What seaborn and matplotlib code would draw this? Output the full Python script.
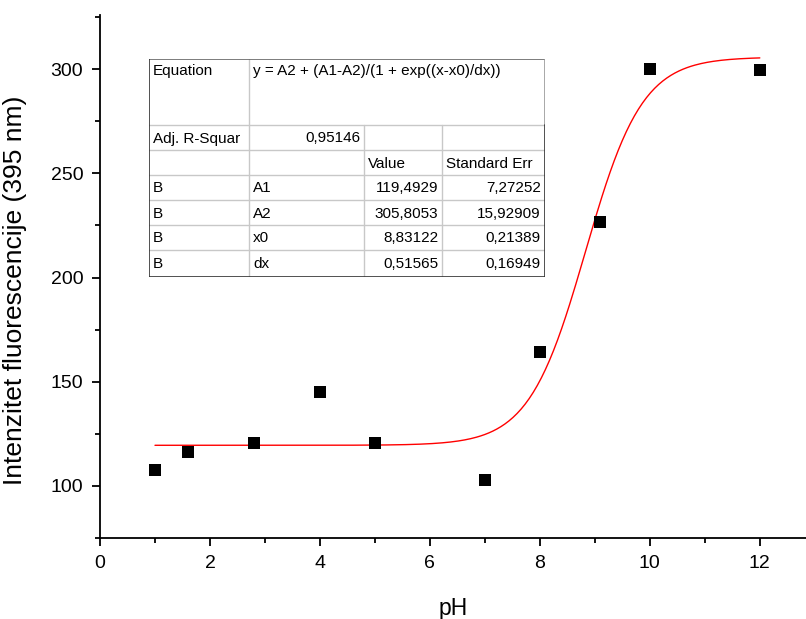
import numpy as np
import pandas as pd
import matplotlib
matplotlib.use("Agg")
import matplotlib.pyplot as plt
import seaborn as sns
from matplotlib.ticker import MultipleLocator

# measured points
ph = [1, 1.6, 2.8, 4, 5, 7, 8, 9.1, 10, 12]
intensity = [107.7, 116.3, 120.6, 145.1, 120.6, 102.9, 164.3, 226.6, 300.0, 299.5]

# Boltzmann fit parameters (from the table)
param_names = ["A1", "A2", "x0", "dx"]
param_values = [119.4929, 305.8053, 8.83122, 0.51565]
param_errors = [7.27252, 15.92909, 0.21389, 0.16949]
adj_r2 = 0.95146

sns.set_theme(style="ticks")
plt.rcParams["font.family"] = ["Liberation Sans", "DejaVu Sans"]
plt.rcParams["text.color"] = "black"
plt.rcParams["axes.labelcolor"] = "black"
plt.rcParams["xtick.color"] = "black"
plt.rcParams["ytick.color"] = "black"

fig = plt.figure(figsize=(8.06, 6.19), dpi=100)
ax = fig.add_axes([100 / 806, 1 - 538 / 619, 706 / 806, 523 / 619])

df = pd.DataFrame({"pH": ph, "I": intensity})
A1, A2, x0, dx = param_values
xf = np.linspace(1, 12, 300)
fit = pd.DataFrame({"pH": xf, "I": A2 + (A1 - A2) / (1 + np.exp((xf - x0) / dx))})

sns.lineplot(data=fit, x="pH", y="I", ax=ax, color="red", linewidth=1)
sns.scatterplot(data=df, x="pH", y="I", ax=ax, marker="s", color="black",
                s=80, edgecolor="black", linewidth=0, zorder=3)

ax.set_xlim(0, 12.84)
ax.set_ylim(75, 326)
ax.xaxis.set_major_locator(MultipleLocator(2))
ax.xaxis.set_minor_locator(MultipleLocator(1))
ax.yaxis.set_major_locator(MultipleLocator(50))
ax.yaxis.set_minor_locator(MultipleLocator(25))
ax.set_yticks([100, 150, 200, 250, 300])
ax.tick_params(which="major", direction="out", length=6, width=1.3, labelsize=14, pad=6)
ax.tick_params(which="minor", direction="out", length=3.5, width=1.3)
ax.tick_params(axis="x", which="both", bottom=True)
ax.tick_params(axis="y", which="both", left=True)
for s in ["top", "right"]:
    ax.spines[s].set_visible(False)
for s in ["left", "bottom"]:
    ax.spines[s].set_linewidth(1.3)
    ax.spines[s].set_color("black")
ax.set_xlabel("pH", fontsize=16.5, labelpad=18)
ax.set_ylabel("Intenzitet fluorescencije (395 nm)", fontsize=19)
ax.yaxis.set_label_coords(-0.103, 0.474)

# fit result table drawn in its own axes (pixel units)
tw, th = 396, 218
tab = fig.add_axes([149 / 806, 1 - 277 / 619, tw / 806, th / 619])
tab.set_xlim(0, tw)
tab.set_ylim(th, 0)
tab.axis("off")
tab.patch.set_visible(False)
tab.fill_between([0, tw], 0, th, color="white", zorder=0)

cols = [0, 100, 215, 293, 396]
rows = [0, 66, 91, 116, 141, 166, 191, 218]
light = "#c8c8c8"
dark = "#333333"
for r in rows[1:-1]:
    tab.plot([0, tw], [r, r], color=light, lw=1)
tab.plot([cols[1], cols[1]], [0, th], color=light, lw=1)
for c in cols[2:4]:
    tab.plot([c, c], [rows[1], th], color=light, lw=1)
tab.plot([0, tw], [0, 0], color="#666666", lw=1.2)
tab.plot([0, 0], [0, th], color=dark, lw=1.2)
tab.plot([0, tw], [th, th], color=dark, lw=1.2)
tab.plot([tw, tw], [0, rows[1]], color="#999999", lw=1.2)
tab.plot([tw, tw], [rows[1], th], color=dark, lw=1.2)

fs = 11
pad = 4


def cell(text, ci, ri, right=False, top=False):
    if right:
        x, ha = cols[ci + 1] - pad, "right"
    else:
        x, ha = cols[ci] + pad, "left"
    if top:
        y, va = 12, "center"
    else:
        y, va = (rows[ri] + rows[ri + 1]) / 2 + 1, "center"
    tab.text(x, y, text, ha=ha, va=va, fontsize=fs)


cell("Equation", 0, 0, top=True)
cell("y = A2 + (A1-A2)/(1 + exp((x-x0)/dx))", 1, 0, top=True)
cell("Adj. R-Squar", 0, 1)
cell(str(adj_r2).replace(".", ","), 1, 1, right=True)
cell("Value", 2, 2)
cell("Standard Err", 3, 2)
for i, (n, v, e) in enumerate(zip(param_names, param_values, param_errors)):
    cell("B", 0, 3 + i)
    cell(n, 1, 3 + i)
    cell(str(v).replace(".", ","), 2, 3 + i, right=True)
    cell(str(e).replace(".", ","), 3, 3 + i, right=True)

fig.savefig("out.png", dpi=100)
